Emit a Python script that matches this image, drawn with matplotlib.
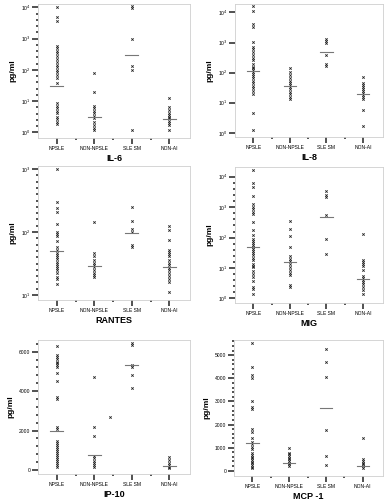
import numpy as np
import matplotlib
matplotlib.use("Agg")
import matplotlib.pyplot as plt
from matplotlib.ticker import FixedLocator, NullFormatter

plt.rcParams['font.family'] = ['Liberation Sans', 'DejaVu Sans']

groups = ["NPSLE", "NON-NPSLE", "SLE SM", "NON-AI"]

# IL-6 (pg/ml)
il6 = [
    [10000, 5000, 3700, 575, 490, 405, 340, 275, 220, 180, 140, 125, 98, 87, 68, 54, 39,
     8.5, 6.9, 5.9, 4.8, 4.1, 3.2, 2.6, 2.2, 1.9],
    [81, 19, 6.9, 5.9, 4.9, 4.1, 3.3, 2.8, 2.2, 1.7, 1.4, 1.2],
    [11000, 9500, 950, 130, 98, 1.2],
    [12.3, 6.3, 5.1, 4.3, 3.5, 3.2, 2.8, 2.3, 2.0, 1.7, 1.2],
]
il6_med = [31, 3.1, 295, 2.6]

# IL-8
il8 = [
    [16000, 11500, 4000, 3300, 1050, 720, 590, 490, 380, 295, 260, 200, 155, 138, 120, 107,
     93, 76, 65, 54, 44, 35, 30, 25, 20, 4.4, 1.2],
    [138, 107, 83, 65, 54, 46, 38, 32, 28, 23, 19, 16, 13],
    [1260, 1100, 930, 380, 200, 166],
    [69, 46, 38, 32, 28, 24.5, 21, 18, 16, 13.5, 5.6, 1.7],
]
il8_med = [112, 35, 470, 20]

# RANTES
rantes = [
    [1000, 295, 240, 210, 135, 102, 93, 87, 71, 58, 51, 47, 43, 40, 37, 34, 31, 29, 27, 25,
     22, 19.5, 18, 15],
    [145, 47, 41, 36, 32, 30, 27.5, 25, 22.5, 21, 19.5],
    [250, 150, 110, 100, 62, 58],
    [126, 107, 74, 51, 48, 45, 42, 36, 32, 29.5, 27, 24.5, 22, 20, 18, 16, 11],
]
rantes_med = [50, 29, 95, 28]

# MIG
mig = [
    [17000, 6000, 4700, 2300, 1260, 1020, 870, 710, 590, 330, 178, 120, 93, 79, 68, 58, 50,
     43, 37, 32, 26, 22, 18, 14, 12, 10.5, 8.1, 6.3, 5.1, 3.8, 2.4, 2.0, 1.45],
    [355, 186, 112, 48, 25, 20, 17.4, 14, 11, 8.5, 6.9, 5.8, 2.8, 2.4],
    [3500, 2600, 2100, 550, 87, 29],
    [132, 19, 16, 13.5, 11.5, 8.5, 5.4, 4.7, 4.0, 3.5, 2.95, 2.4, 1.86, 1.45],
]
mig_med = [48, 16, 460, 4.4]

# IP-10
ip10 = [
    [6290, 5830, 5750, 5610, 5490, 5410, 5320, 5200, 4900, 4530, 3720, 3600, 2200, 2100,
     1490, 1390, 1280, 1180, 1080, 980, 880, 780, 680, 575, 475, 370, 270, 170],
    [4730, 2200, 1720, 710, 590, 475, 370, 270, 170],
    [6460, 6340, 5320, 5200, 4820, 4140],
    [680, 510, 370, 250, 170, 85],
]
ip10_med = [1980, 760, 5320, 200]
ip10_stray_x = [2.41]
ip10_stray_y = [2700]

# MCP-1
mcp1 = [
    [5520, 4510, 4150, 4000, 3030, 2750, 2660, 1810, 1690, 1400, 1260, 1140, 1030, 920,
     750, 680, 610, 535, 460, 390, 320, 245, 175, 100],
    [970, 780, 720, 640, 565, 490, 420, 350, 275, 200],
    [5270, 4700, 4070, 1760, 640, 245],
    [1400, 490, 420, 350, 275, 200, 130],
]
mcp1_med = [1210, 320, 2700, 200]

fig = plt.figure(figsize=(3.84, 5.0), dpi=100)
W, H = 384.0, 500.0


def make_ax(l, t, r, b):
    return fig.add_axes([l / W, 1 - b / H, (r - l) / W, (b - t) / H])


def style(ax, name):
    for s in ax.spines.values():
        s.set_color('#cfcfcf')
        s.set_linewidth(0.6)
    ax.set_xlim(0.5, 4.55)
    ax.set_xticks([1, 2, 3, 4])
    ax.set_xticklabels(groups, fontsize=3.6)
    ax.xaxis.set_minor_locator(FixedLocator([1.5, 2.5, 3.5]))
    ax.tick_params(axis='both', which='major', direction='out', length=4, width=1.1,
                   color='#222222', pad=1.5)
    ax.tick_params(axis='both', which='minor', direction='out', length=1.2, width=1.1,
                   color='#222222')
    ax.tick_params(axis='y', labelsize=3.6)
    ax.set_xlabel(name, fontsize=6.5, fontweight='bold', labelpad=2.5)
    ax.set_ylabel('pg/ml', fontsize=6, fontweight='bold', labelpad=3)


def draw(ax, data, med):
    for i, vals in enumerate(data):
        ax.plot(np.full(len(vals), i + 1), vals, linestyle='none', marker='x',
                markersize=1.7, markeredgewidth=0.6, color='#222222')
        ax.plot([i + 1 - 0.17, i + 1 + 0.17], [med[i], med[i]], color='#777777', lw=0.8)


def log_axis(ax, lo, hi, decades, step, with_minor=True):
    ax.set_yscale('log')
    ax.set_ylim(10 ** lo, 10 ** hi)
    ax.yaxis.set_major_locator(FixedLocator([10.0 ** d for d in decades]))
    ax.set_yticklabels(['10$^{%d}$' % d for d in decades])
    ax.yaxis.set_minor_formatter(NullFormatter())
    if with_minor:
        k = np.arange(decades[0], decades[-1] + 1e-9, step)
        ax.yaxis.set_minor_locator(FixedLocator(10.0 ** k))
    else:
        ax.yaxis.set_minor_locator(FixedLocator([]))


# IL-6
ax = make_ax(38, 4, 190, 138)
draw(ax, il6, il6_med)
log_axis(ax, -0.18, 4.105, [0, 1, 2, 3, 4], 0.2)
style(ax, 'IL-6')

# IL-8
ax = make_ax(235, 4, 383, 137)
draw(ax, il8, il8_med)
log_axis(ax, -0.14, 4.28, [0, 1, 2, 3, 4], 0.2, with_minor=False)
style(ax, 'IL-8')

# RANTES
ax = make_ax(38, 166, 190, 300)
draw(ax, rantes, rantes_med)
log_axis(ax, 0.92, 3.05, [1, 2, 3], 0.1)
style(ax, 'RANTES')

# MIG
ax = make_ax(235, 167, 383, 303)
draw(ax, mig, mig_med)
log_axis(ax, -0.15, 4.32, [0, 1, 2, 3, 4], 0.2)
style(ax, 'MIG')

# IP-10
ax = make_ax(38, 340, 190, 474)
draw(ax, ip10, ip10_med)
ax.plot(ip10_stray_x, ip10_stray_y, linestyle='none', marker='x', markersize=1.7,
        markeredgewidth=0.6, color='#222222')
ax.set_ylim(-200, 6590)
ax.set_yticks([0, 2000, 4000, 6000])
ax.yaxis.set_minor_locator(FixedLocator(np.arange(0, 6600, 400)))
style(ax, 'IP-10')

# MCP-1
ax = make_ax(234, 340, 383, 476)
draw(ax, mcp1, mcp1_med)
ax.set_ylim(-230, 5660)
ax.set_yticks([0, 1000, 2000, 3000, 4000, 5000])
ax.yaxis.set_minor_locator(FixedLocator(np.arange(0, 5700, 200)))
style(ax, 'MCP -1')

fig.savefig('out.png', dpi=100)
